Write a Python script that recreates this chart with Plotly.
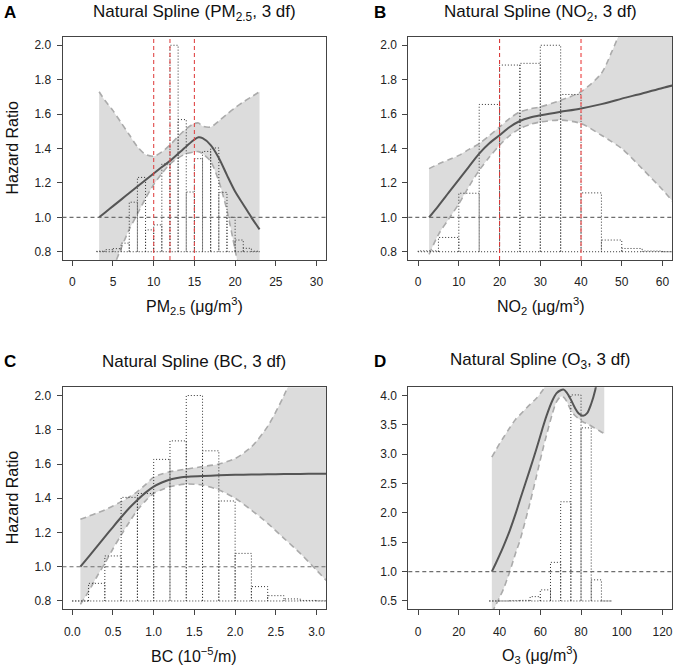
import plotly.graph_objects as go

# ---------------- data ----------------
# Panel A: PM2.5
pm_edges = list(range(3, 24))
pm_hist = [0.803, 0.812, 0.818, 0.85, 1.088, 1.232, 0.927, 0.956, 1.31, 2.0,
           1.568, 1.147, 1.341, 1.383, 1.403, 1.145, 1.0, 0.868, 0.82, 0.803]
pm_x = [3.3, 4, 5, 6, 7, 8, 9, 10, 11, 12, 13, 14, 15, 15.5, 16, 17, 18, 19, 20, 21, 22, 23]
pm_hr = [1.0, 1.027, 1.065, 1.103, 1.141, 1.179, 1.217, 1.255, 1.292, 1.328, 1.37,
         1.412, 1.452, 1.465, 1.46, 1.42, 1.345, 1.245, 1.15, 1.075, 1.0, 0.93]
pm_up = [1.73, 1.68, 1.62, 1.55, 1.48, 1.41, 1.365, 1.355, 1.38, 1.42, 1.47,
         1.515, 1.545, 1.548, 1.53, 1.525, 1.56, 1.60, 1.637, 1.67, 1.70, 1.73]
pm_lo = [0.42, 0.55, 0.70, 0.82, 0.93, 1.02, 1.11, 1.19, 1.255, 1.31, 1.345,
         1.37, 1.38, 1.382, 1.37, 1.325, 1.21, 1.04, 0.81, 0.57, 0.32, 0.08]
pm_ref = [10, 12, 15]

# Panel B: NO2
no2_edges = list(range(0, 70, 5))
no2_hist = [0.805, 0.883, 1.14, 1.656, 1.885, 1.895, 2.0, 1.714, 1.142, 0.868, 0.819, 0.804, 0.80]
no2_x = [2.7, 5, 7.5, 10, 12.5, 15, 17.5, 20, 22.5, 25, 27.5, 30, 35, 40, 45, 47.5, 50, 55, 60, 64]
no2_hr = [1.0, 1.067, 1.143, 1.219, 1.295, 1.37, 1.43, 1.477, 1.525, 1.56, 1.58,
          1.593, 1.613, 1.633, 1.658, 1.673, 1.69, 1.72, 1.752, 1.775]
no2_up = [1.283, 1.31, 1.335, 1.36, 1.395, 1.428, 1.475, 1.525, 1.575, 1.613, 1.63,
          1.642, 1.68, 1.73, 1.837, 1.96, 2.1, 2.4, 2.75, 3.05]
no2_lo = [0.785, 0.9, 0.99, 1.078, 1.18, 1.273, 1.35, 1.419, 1.475, 1.516, 1.54,
          1.554, 1.565, 1.545, 1.477, 1.44, 1.40, 1.283, 1.16, 1.05]
no2_ref = [20, 40]

# Panel C: BC
bc_edges = [round(0.2 * i, 1) for i in range(17)]
bc_hist = [0.80, 0.903, 1.063, 1.405, 1.428, 1.627, 1.735, 2.0, 1.677, 1.384,
           1.078, 0.884, 0.831, 0.812, 0.803, 0.801]
bc_x = [0.1, 0.2, 0.3, 0.4, 0.5, 0.6, 0.7, 0.8, 0.9, 1.0, 1.1, 1.2, 1.4, 1.6,
        1.8, 2.0, 2.2, 2.4, 2.6, 2.8, 3.0, 3.2]
bc_hr = [1.0, 1.058, 1.116, 1.174, 1.232, 1.289, 1.343, 1.39, 1.433, 1.468, 1.492,
         1.51, 1.526, 1.53, 1.534, 1.537, 1.538, 1.54, 1.541, 1.542, 1.543, 1.544]
bc_up = [1.277, 1.295, 1.313, 1.332, 1.355, 1.38, 1.408, 1.439, 1.48, 1.523, 1.542,
         1.555, 1.57, 1.585, 1.60, 1.632, 1.70, 1.82, 2.0, 2.22, 2.5, 2.8]
bc_lo = [0.78, 0.855, 0.94, 1.02, 1.105, 1.185, 1.26, 1.331, 1.385, 1.428, 1.45,
         1.467, 1.483, 1.477, 1.448, 1.40, 1.331, 1.253, 1.166, 1.078, 0.98, 0.88]

# Panel D: O3
o3_edges = list(range(35, 100, 5))
o3_hist = [0.50, 0.50, 0.505, 0.51, 0.574, 0.689, 1.158, 2.19, 4.01, 3.449, 0.86, 0.50]
o3_x = [36.2, 38, 40, 42, 45, 48, 50, 55, 58, 61, 63, 66, 68, 70, 71.5, 73, 75,
        77, 79, 81, 83, 85, 87, 89, 91.4]
o3_hr = [1.0, 1.13, 1.28, 1.44, 1.70, 2.0, 2.22, 2.75, 3.08, 3.43, 3.65, 3.92, 4.04,
         4.09, 4.1, 4.05, 3.93, 3.79, 3.69, 3.655, 3.7, 3.86, 4.1, 4.45, 4.9]
o3_up = [2.95, 3.06, 3.18, 3.29, 3.45, 3.6, 3.67, 3.85, 3.95, 4.08, 4.2, 4.35, 4.45,
         4.55, 4.6, 4.6, 4.55, 4.5, 4.5, 4.5, 4.6, 4.8, 5.1, 5.5, 6.0]
o3_lo = [0.3, 0.42, 0.56, 0.71, 1.0, 1.33, 1.53, 2.18, 2.61, 3.05, 3.32, 3.7, 3.895,
         3.98, 3.97, 3.9, 3.75, 3.66, 3.6, 3.55, 3.52, 3.48, 3.44, 3.4, 3.35]

# tick definitions
pm_ticks = [0, 5, 10, 15, 20, 25, 30]
no2_ticks = [0, 10, 20, 30, 40, 50, 60]
bc_ticks = [0.0, 0.5, 1.0, 1.5, 2.0, 2.5, 3.0]
bc_ticklabels = ["0.0", "0.5", "1.0", "1.5", "2.0", "2.5", "3.0"]
o3_ticks = [0, 20, 40, 60, 80, 100, 120]
hr_ticks = [0.8, 1.0, 1.2, 1.4, 1.6, 1.8, 2.0]
hr_ticklabels = ["0.8", "1.0", "1.2", "1.4", "1.6", "1.8", "2.0"]
o3_hr_ticks = [0.5, 1.0, 1.5, 2.0, 2.5, 3.0, 3.5, 4.0]
o3_hr_ticklabels = ["0.5", "1.0", "1.5", "2.0", "2.5", "3.0", "3.5", "4.0"]

titles = ["Natural Spline (PM<sub>2.5</sub>, 3 df)", "Natural Spline (NO<sub>2</sub>, 3 df)",
          "Natural Spline (BC, 3 df)", "Natural Spline (O<sub>3</sub>, 3 df)"]
xtitles = ["PM<sub>2.5</sub> (μg/m<sup>3</sup>)", "NO<sub>2</sub> (μg/m<sup>3</sup>)",
           "BC (10<sup>−5</sup>/m)", "O<sub>3</sub> (μg/m<sup>3</sup>)"]
letters = ["A", "B", "C", "D"]

# ---------------- layout geometry (page pixels) ----------------
W, H = 674, 666
FONT = "Liberation Sans, Arial, Helvetica, sans-serif"
xdom_px = {"L": (62.5, 326.3), "R": (408.3, 672.3)}
ydom_px = {"T": (37.0, 260.0), "B": (387.3, 609.2)}


def px_x(p):
    return p / W


def px_y(p):
    return 1 - p / H


def xd(p):
    return [px_x(p[0]), px_x(p[1])]


def yd(p):
    return [px_y(p[1]), px_y(p[0])]


def hist_path(edges, heights, base):
    xs, ys = [], []
    for i, h in enumerate(heights):
        x0, x1 = edges[i], edges[i + 1]
        xs += [x0, x0, x1, x1, None]
        ys += [base, h, h, base, None]
    xs += [edges[0], edges[-1]]
    ys += [base, base]
    return xs, ys


fig = go.Figure()

BAND_FILL = "#dcdcdc"
BAND_LINE = "#ababab"
CURVE = "#555555"
HIST = "#333333"

panels = [
    ("x", "y", pm_edges, pm_hist, 0.8, pm_x, pm_hr, pm_up, pm_lo),
    ("x2", "y2", no2_edges, no2_hist, 0.8, no2_x, no2_hr, no2_up, no2_lo),
    ("x3", "y3", bc_edges, bc_hist, 0.8, bc_x, bc_hr, bc_up, bc_lo),
    ("x4", "y4", o3_edges, o3_hist, 0.5, o3_x, o3_hr, o3_up, o3_lo),
]

for xa, ya, edges, hist, base, gx, hr, up, lo in panels:
    fig.add_trace(go.Scatter(x=gx, y=up, mode="lines", xaxis=xa, yaxis=ya,
                             line=dict(color=BAND_LINE, width=1.6, dash="6px,4px",
                                       shape="spline", smoothing=0.8),
                             showlegend=False, hoverinfo="skip"))
    fig.add_trace(go.Scatter(x=gx, y=lo, mode="lines", xaxis=xa, yaxis=ya,
                             fill="tonexty", fillcolor=BAND_FILL,
                             line=dict(color=BAND_LINE, width=1.6, dash="6px,4px",
                                       shape="spline", smoothing=0.8),
                             showlegend=False, hoverinfo="skip"))
    hx, hy = hist_path(edges, hist, base)
    fig.add_trace(go.Scatter(x=hx, y=hy, mode="lines", xaxis=xa, yaxis=ya,
                             line=dict(color=HIST, width=1, dash="1px,2px"),
                             showlegend=False, hoverinfo="skip"))
    fig.add_trace(go.Scatter(x=gx, y=hr, mode="lines", xaxis=xa, yaxis=ya,
                             line=dict(color=CURVE, width=2, shape="spline", smoothing=0.8),
                             showlegend=False, hoverinfo="skip"))

shapes = []
for xa, ya in [("x", "y"), ("x2", "y2"), ("x3", "y3"), ("x4", "y4")]:
    shapes.append(dict(type="line", xref=f"{xa} domain", x0=0, x1=1, yref=ya, y0=1.0, y1=1.0,
                       line=dict(color="#6e6e6e", width=1.2, dash="4px,3px")))
for v in pm_ref:
    shapes.append(dict(type="line", xref="x", x0=v, x1=v, yref="y domain", y0=0, y1=1,
                       line=dict(color="#e04848", width=1.1, dash="4px,3px")))
ref_colors = ["#d93a3a", "rgba(240,110,110,0.75)"]
ref_widths = [1.1, 2.0]
for v, c, w in zip(no2_ref, ref_colors, ref_widths):
    shapes.append(dict(type="line", xref="x2", x0=v, x1=v, yref="y2 domain", y0=0, y1=1,
                       line=dict(color=c, width=w, dash="4px,3px")))

axis_common = dict(showline=True, mirror=True, linecolor="#444444", linewidth=1,
                   ticks="outside", ticklen=5, tickcolor="#444444", tickwidth=1,
                   showgrid=False, zeroline=False,
                   tickfont=dict(family=FONT, size=12, color="#222222"))

layout_axes = {}
specs = [
    ("xaxis", "yaxis", "L", "T", [-1.2, 31.2], pm_ticks, None, [0.752, 2.048], hr_ticks, hr_ticklabels),
    ("xaxis2", "yaxis2", "R", "T", [-2.4, 62.4], no2_ticks, None, [0.752, 2.048], hr_ticks, hr_ticklabels),
    ("xaxis3", "yaxis3", "L", "B", [-0.12, 3.12], bc_ticks, bc_ticklabels, [0.752, 2.048], hr_ticks, hr_ticklabels),
    ("xaxis4", "yaxis4", "R", "B", [-4.8, 124.8], o3_ticks, None, [0.36, 4.14], o3_hr_ticks, o3_hr_ticklabels),
]
for i, (xk, yk, cx, cy, xr, xt, xtl, yr, yt, ytl) in enumerate(specs):
    n = "" if i == 0 else str(i + 1)
    xax = dict(axis_common, domain=xd(xdom_px[cx]), range=xr, tickvals=xt,
               anchor="y" + n, ticklabelstandoff=6)
    if xtl:
        xax["ticktext"] = xtl
    yax = dict(axis_common, domain=yd(ydom_px[cy]), range=yr, tickvals=yt, ticktext=ytl,
               anchor="x" + n, ticklabelstandoff=3)
    layout_axes[xk] = xax
    layout_axes[yk] = yax

annotations = []
title_y = {"T": 13, "B": 361}
xt_y = {"T": 306, "B": 655}
for i, (cx, cy) in enumerate([("L", "T"), ("R", "T"), ("L", "B"), ("R", "B")]):
    xc = (xdom_px[cx][0] + xdom_px[cx][1]) / 2
    annotations.append(dict(text=titles[i], x=px_x(xc), y=px_y(title_y[cy]), xref="paper", yref="paper",
                            xanchor="center", yanchor="middle", showarrow=False,
                            font=dict(family=FONT, size=17, color="#111111")))
    annotations.append(dict(text=xtitles[i], x=px_x(xc), y=px_y(xt_y[cy]), xref="paper", yref="paper",
                            xanchor="center", yanchor="middle", showarrow=False,
                            font=dict(family=FONT, size=16, color="#111111")))
    lx = 10 if cx == "L" else 380
    annotations.append(dict(text="<b>" + letters[i] + "</b>", x=px_x(lx), y=px_y(title_y[cy]),
                            xref="paper", yref="paper", xanchor="center", yanchor="middle",
                            showarrow=False, font=dict(family=FONT, size=17, color="#000000")))
for cy in ["T", "B"]:
    yc = (ydom_px[cy][0] + ydom_px[cy][1]) / 2
    annotations.append(dict(text="Hazard Ratio", x=px_x(12), y=px_y(yc), xref="paper", yref="paper",
                            xanchor="center", yanchor="middle", textangle=-90, showarrow=False,
                            font=dict(family=FONT, size=16, color="#111111")))

fig.update_layout(width=W, height=H, margin=dict(l=0, r=0, t=0, b=0),
                  paper_bgcolor="white", plot_bgcolor="white", hovermode=False,
                  shapes=shapes, annotations=annotations, **layout_axes)

fig.write_html("out.html", config={"displayModeBar": False, "staticPlot": True},
               post_script="document.body.style.margin='0px';document.body.style.padding='0px';")
